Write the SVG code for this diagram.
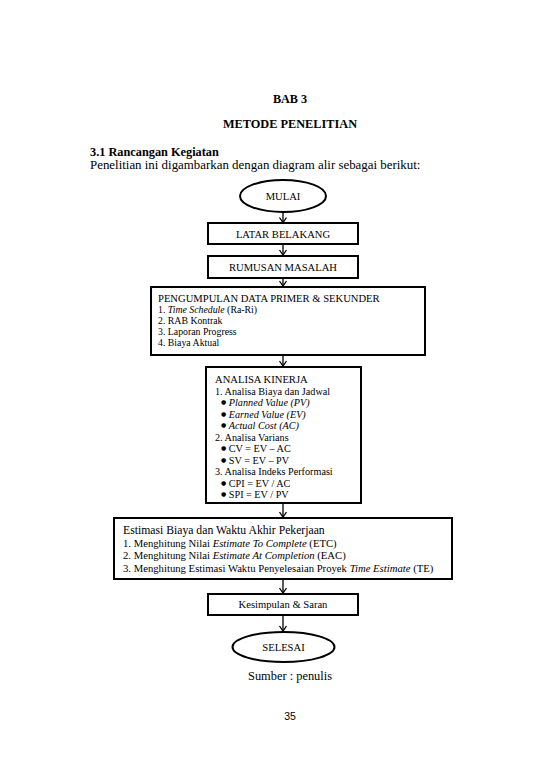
<svg xmlns="http://www.w3.org/2000/svg" width="550" height="777" viewBox="0 0 550 777">
<style>
text{font-family:"Liberation Serif","Times New Roman",serif;fill:#000}
.b{font-weight:bold}
.i{font-style:italic}
.bu{font-size:6px;font-family:"DejaVu Sans",sans-serif}
.box{fill:#fff;stroke:#000;stroke-width:2}
.lab{font-size:10.6px;text-anchor:middle}
.l1{font-size:9.8px}
.l2{font-size:10.2px}
.l3{font-size:10.7px}
.con{stroke:#000;stroke-width:1.3;fill:none}
</style>
<rect width="550" height="777" fill="#fff"/>
<text x="290" y="103" class="b" font-size="12.2" text-anchor="middle">BAB 3</text>
<text x="290" y="128" class="b" font-size="12.3" text-anchor="middle">METODE PENELITIAN</text>
<text x="90" y="155.5" class="b" font-size="12.3">3.1 Rancangan Kegiatan</text>
<text x="90" y="168.5" font-size="12.9">Penelitian ini digambarkan dengan diagram alir sebagai berikut:</text>

<g id="connectors">
<line class="con" x1="283" y1="212" x2="283" y2="222"/>
<path class="con" d="M279.5,217.5 L283,222.5 L286.5,217.5"/>
<line class="con" x1="283" y1="244" x2="283" y2="255"/>
<path class="con" d="M279.5,250 L283,255 L286.5,250"/>
<line class="con" x1="283" y1="278" x2="283" y2="286"/>
<path class="con" d="M279.5,281 L283,286 L286.5,281"/>
<line class="con" x1="283" y1="356" x2="283" y2="366"/>
<path class="con" d="M279.5,361 L283,366 L286.5,361"/>
<line class="con" x1="283" y1="504" x2="283" y2="517"/>
<path class="con" d="M279.5,512 L283,517 L286.5,512"/>
<line class="con" x1="283" y1="580" x2="283" y2="593"/>
<path class="con" d="M279.5,588 L283,593 L286.5,588"/>
<line class="con" x1="283" y1="616" x2="283" y2="631"/>
<path class="con" d="M279.5,626 L283,631 L286.5,626"/>
</g>

<g id="mulai">
<ellipse class="box" cx="283" cy="196" rx="43" ry="16"/>
<text x="283" y="200" class="lab" font-size="10.5">MULAI</text>
</g>

<g id="latar">
<rect class="box" x="208" y="223" width="150" height="21"/>
<text x="283" y="237.5" class="lab">LATAR BELAKANG</text>
</g>

<g id="rumusan">
<rect class="box" x="208" y="256" width="150" height="22"/>
<text x="283" y="270.5" class="lab">RUMUSAN MASALAH</text>
</g>

<g id="pengumpulan">
<rect class="box" x="151" y="287" width="274" height="68"/>
<text x="158" y="301.5" font-size="10.6">PENGUMPULAN DATA PRIMER &amp; SEKUNDER</text>
<text x="158" y="313" class="l1">1. <tspan class="i">Time Schedule</tspan> (Ra-Ri)</text>
<text x="158" y="324" class="l1">2. RAB Kontrak</text>
<text x="158" y="335" class="l1">3. Laporan Progress</text>
<text x="158" y="346" class="l1">4. Biaya Aktual</text>
</g>

<g id="analisa">
<rect class="box" x="206" y="367" width="155" height="136"/>
<text x="215" y="383" font-size="10.6">ANALISA KINERJA</text>
<text x="215" y="394.5" class="l2">1. Analisa Biaya dan Jadwal</text>
<text x="221" y="406" class="l2"><tspan class="bu" dy="-1.6">●</tspan><tspan dy="1.6"> </tspan><tspan class="i">Planned Value (PV)</tspan></text>
<text x="221" y="417.5" class="l2"><tspan class="bu" dy="-1.6">●</tspan><tspan dy="1.6"> </tspan><tspan class="i">Earned Value (EV)</tspan></text>
<text x="221" y="429" class="l2"><tspan class="bu" dy="-1.6">●</tspan><tspan dy="1.6"> </tspan><tspan class="i">Actual Cost (AC)</tspan></text>
<text x="215" y="440.5" class="l2">2. Analisa Varians</text>
<text x="221" y="452" class="l2"><tspan class="bu" dy="-1.6">●</tspan><tspan dy="1.6"> CV = EV – AC</tspan></text>
<text x="221" y="463.5" class="l2"><tspan class="bu" dy="-1.6">●</tspan><tspan dy="1.6"> SV = EV – PV</tspan></text>
<text x="215" y="475" class="l2">3. Analisa Indeks Performasi</text>
<text x="221" y="486.5" class="l2"><tspan class="bu" dy="-1.6">●</tspan><tspan dy="1.6"> CPI = EV / AC</tspan></text>
<text x="221" y="498" class="l2"><tspan class="bu" dy="-1.6">●</tspan><tspan dy="1.6"> SPI = EV / PV</tspan></text>
</g>

<g id="estimasi">
<rect class="box" x="114" y="518" width="338" height="61"/>
<text x="123" y="534" font-size="11.7">Estimasi Biaya dan Waktu Akhir Pekerjaan</text>
<text x="123" y="546.5" class="l3">1. Menghitung Nilai <tspan class="i">Estimate To Complete</tspan> (ETC)</text>
<text x="123" y="559" class="l3">2. Menghitung Nilai <tspan class="i">Estimate At Completion</tspan> (EAC)</text>
<text x="123" y="571.5" class="l3">3. Menghitung Estimasi Waktu Penyelesaian Proyek <tspan class="i">Time Estimate</tspan> (TE)</text>
</g>

<g id="kesimpulan">
<rect class="box" x="208" y="594" width="150" height="21"/>
<text x="283" y="608" class="lab" font-size="10.8">Kesimpulan &amp; Saran</text>
</g>

<g id="selesai">
<ellipse class="box" cx="283.5" cy="647" rx="51" ry="15"/>
<text x="283.5" y="651" class="lab" font-size="10.5">SELESAI</text>
</g>

<text x="290" y="680" font-size="12.4" text-anchor="middle">Sumber : penulis</text>
<text x="290" y="720" font-size="10.5" text-anchor="middle" style="font-family:'Liberation Sans',Arial,sans-serif">35</text>
</svg>
